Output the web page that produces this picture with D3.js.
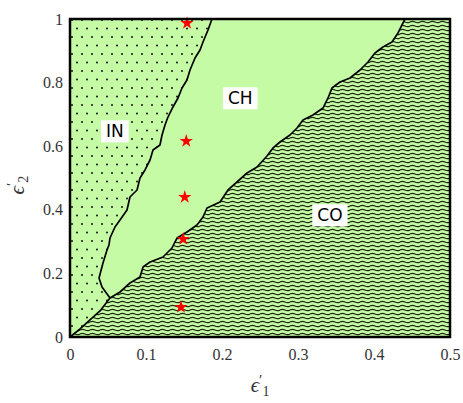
<!DOCTYPE html>
<html>
<head>
<meta charset="utf-8">
<script src="https://cdn.jsdelivr.net/npm/d3@7"></script>
<style>
  html, body { margin: 0; padding: 0; background: #fff; }
  svg { display: block; }
</style>
</head>
<body>
<svg id="chart" width="463" height="403"></svg>
<script>
// ---- data ----
const xTicks = [0, 0.1, 0.2, 0.3, 0.4, 0.5];
const yTicks = [0, 0.2, 0.4, 0.6, 0.8, 1];
const xTickLabels = ["0", "0.1", "0.2", "0.3", "0.4", "0.5"];
const yTickLabels = ["0", "0.2", "0.4", "0.6", "0.8", "1"];

// origin -> triple point
const lowerBoundaryX = [0, 0.0132, 0.0263, 0.0395, 0.0526];
const lowerBoundaryY = [0, 0.0252, 0.0535, 0.0818, 0.1226];

// IN / CH boundary (triple point -> top)
const inChX = [0.0526, 0.0421, 0.0382, 0.0434, 0.0487, 0.0513, 0.0526, 0.0592, 0.0658, 0.075, 0.0789, 0.0882, 0.0921, 0.0987, 0.1053, 0.1092, 0.1184, 0.1211, 0.125, 0.1289, 0.1355, 0.1421, 0.1474, 0.1539, 0.1579, 0.1645, 0.1711, 0.175, 0.1816, 0.1868];
const inChY = [0.1226, 0.157, 0.1855, 0.2327, 0.2736, 0.2893, 0.3113, 0.3459, 0.3679, 0.3994, 0.4403, 0.4623, 0.5, 0.5252, 0.5566, 0.5881, 0.6038, 0.6352, 0.6667, 0.6918, 0.7233, 0.7516, 0.783, 0.8082, 0.8396, 0.8774, 0.9025, 0.9277, 0.9654, 1.0];

// CH / CO boundary (triple point -> top)
const chCoX = [0.0526, 0.0658, 0.0789, 0.0921, 0.0961, 0.1053, 0.1224, 0.1342, 0.1408, 0.1539, 0.1671, 0.175, 0.1803, 0.1974, 0.2079, 0.2197, 0.2329, 0.2461, 0.2592, 0.2671, 0.2763, 0.2895, 0.2987, 0.3066, 0.3197, 0.3329, 0.3395, 0.3447, 0.3553, 0.3684, 0.3816, 0.3921, 0.4013, 0.4118, 0.4237, 0.4316, 0.4408];
const chCoY = [0.1226, 0.1415, 0.1698, 0.1887, 0.2201, 0.2358, 0.2516, 0.2799, 0.3113, 0.3302, 0.3522, 0.3774, 0.4057, 0.4245, 0.4623, 0.4874, 0.5157, 0.5346, 0.5692, 0.5943, 0.6132, 0.6352, 0.6572, 0.6824, 0.6981, 0.7201, 0.7516, 0.783, 0.8019, 0.8145, 0.8396, 0.8648, 0.8931, 0.912, 0.9277, 0.956, 1.0];

// red stars
const starX = [0.154, 0.153, 0.151, 0.149, 0.146];
const starY = [0.987, 0.616, 0.44, 0.308, 0.094];

// region labels
const regionNames = ["IN", "CH", "CO"];
const regionX = [0.059, 0.224, 0.342];
const regionY = [0.647, 0.751, 0.383];

// ---- drawing ----
const svg = d3.select("#chart");
const x = d3.scaleLinear().domain([0, 0.5]).range([70, 450]);
const y = d3.scaleLinear().domain([0, 1]).range([337, 19]);
const green = "#c6fba6";

const defs = svg.append("defs");
const dots = defs.append("pattern").attr("id", "dots").attr("patternUnits", "userSpaceOnUse")
  .attr("width", 10).attr("height", 17);
dots.append("rect").attr("width", 10).attr("height", 17).attr("fill", green);
dots.append("circle").attr("cx", 2).attr("cy", 3).attr("r", 1).attr("fill", "#111");
dots.append("circle").attr("cx", 7).attr("cy", 11.5).attr("r", 1).attr("fill", "#111");

const waves = defs.append("pattern").attr("id", "waves").attr("patternUnits", "userSpaceOnUse")
  .attr("width", 10).attr("height", 4);
waves.append("rect").attr("width", 10).attr("height", 4).attr("fill", green);
waves.append("path").attr("d", "M-0.5,2.1 Q2.5,0.6 5,2 Q7.5,3.4 10.5,1.9")
  .attr("fill", "none").attr("stroke", "#1c2a12").attr("stroke-width", 1.15);

const zip = (xs, ys) => xs.map((v, i) => [v, ys[i]]);
const lower = zip(lowerBoundaryX, lowerBoundaryY);
const inCh = zip(inChX, inChY);
const chCo = zip(chCoX, chCoY);
const line = d3.line().x(d => x(d[0])).y(d => y(d[1]));

// CH background
svg.append("rect").attr("x", x(0)).attr("y", y(1)).attr("width", x(0.5) - x(0)).attr("height", y(0) - y(1)).attr("fill", green);

// IN region
const inPoly = lower.concat(inCh.slice(1), [[0, 1]]);
svg.append("path").attr("d", line(inPoly) + "Z").attr("fill", "url(#dots)");

// CO region
const coPoly = lower.concat(chCo.slice(1), [[0.5, 1], [0.5, 0]]);
svg.append("path").attr("d", line(coPoly) + "Z").attr("fill", "url(#waves)");

// boundaries
[lower, inCh, chCo].forEach(b => {
  svg.append("path").attr("d", line(b)).attr("fill", "none").attr("stroke", "#000")
    .attr("stroke-width", 1.7).attr("stroke-linejoin", "round");
});

// stars
const star = d3.symbol().type(d3.symbolStar).size(55);
svg.selectAll(".star").data(zip(starX, starY)).enter().append("path")
  .attr("d", star).attr("transform", d => `translate(${x(d[0])},${y(d[1])})`)
  .attr("fill", "#ff0000");

// region labels
regionNames.forEach((name, i) => {
  const g = svg.append("g").attr("transform", `translate(${x(regionX[i])},${y(regionY[i])})`);
  const t = g.append("text").text(name).attr("text-anchor", "middle").attr("dy", "0.36em")
    .attr("font-family", "DejaVu Sans, sans-serif").attr("font-size", 17).attr("fill", "#000");
  const bb = t.node().getBBox();
  g.insert("rect", "text").attr("x", bb.x - 5).attr("y", bb.y - 1).attr("width", bb.width + 10).attr("height", bb.height + 2).attr("fill", "#fff");
});

// frame
svg.append("rect").attr("x", x(0)).attr("y", y(1)).attr("width", x(0.5) - x(0)).attr("height", y(0) - y(1))
  .attr("fill", "none").attr("stroke", "#000").attr("stroke-width", 2.5);

// axes
const xAxis = d3.axisBottom(x).tickValues(xTicks).tickFormat((d, i) => xTickLabels[i]).tickSize(0).tickPadding(10);
const gx = svg.append("g").attr("transform", `translate(0,${y(0) + 2})`).call(xAxis);
const yAxis = d3.axisLeft(y).tickValues(yTicks).tickFormat((d, i) => yTickLabels[i]).tickSize(0).tickPadding(7);
const gy = svg.append("g").attr("transform", `translate(${x(0)},0)`).call(yAxis);
[gx, gy].forEach(g => {
  g.select(".domain").remove();
  g.selectAll("text").attr("font-family", "Liberation Serif, serif").attr("font-size", 16).attr("fill", "#333");
});

// axis titles
const xt = svg.append("text").attr("x", 260).attr("y", 392).attr("text-anchor", "middle")
  .attr("font-family", "Liberation Serif, serif").attr("font-size", 21).attr("fill", "#333");
xt.append("tspan").text("ϵ").attr("font-style", "italic");
xt.append("tspan").text("′").attr("dy", -7).attr("font-size", 15);
xt.append("tspan").text("1").attr("dy", 11).attr("dx", 0).attr("font-size", 14);

const yt = svg.append("text").attr("transform", "translate(24,185) rotate(-90)").attr("text-anchor", "middle")
  .attr("font-family", "Liberation Serif, serif").attr("font-size", 21).attr("fill", "#333");
yt.append("tspan").text("ϵ").attr("font-style", "italic");
yt.append("tspan").text("′").attr("dy", -7).attr("font-size", 15);
yt.append("tspan").text("2").attr("dy", 11).attr("dx", 0).attr("font-size", 14);
</script>
</body>
</html>
